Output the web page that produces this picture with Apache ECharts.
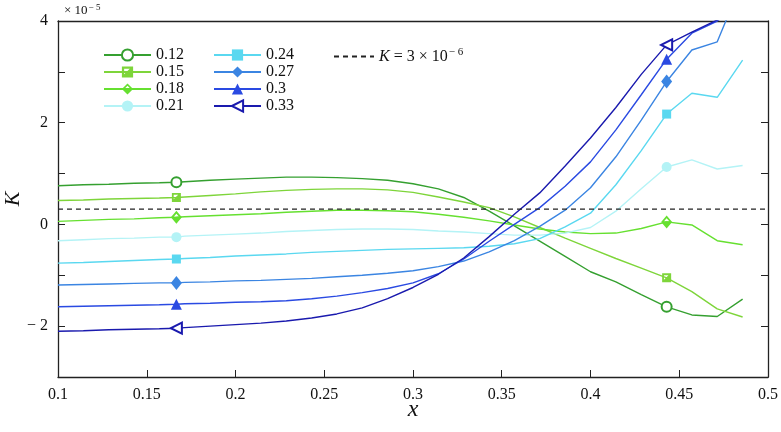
<!DOCTYPE html>
<html><head><meta charset="utf-8">
<script src="https://cdn.jsdelivr.net/npm/echarts@6/dist/echarts.min.js"></script>
<style>html,body{margin:0;padding:0;background:#fff}#c{width:781px;height:432px}</style>
</head><body><div id="c"></div>
<script>
// x positions (0.1 + k/70, plus the marker position 1/6)
const xValues = [0.1000,0.1143,0.1286,0.1429,0.1571,0.1667,0.1714,0.1857,0.2000,0.2143,0.2286,0.2429,0.2571,0.2714,0.2857,0.3000,0.3143,0.3286,0.3429,0.3571,0.3714,0.3857,0.4000,0.4143,0.4286,0.4429,0.4571,0.4714,0.4857];
const markerX = [0.1667, 0.4429];
const seriesNames = ['0.12','0.15','0.18','0.21','0.24','0.27','0.3','0.33'];
// values in units of 1e-5
const s012 = [0.76,0.78,0.79,0.81,0.82,0.83,0.84,0.87,0.89,0.91,0.93,0.93,0.92,0.90,0.87,0.80,0.70,0.53,0.26,-0.03,-0.33,-0.63,-0.93,-1.13,-1.38,-1.62,-1.78,-1.81,-1.47];
const s015 = [0.47,0.48,0.50,0.51,0.52,0.53,0.54,0.57,0.60,0.64,0.67,0.69,0.70,0.70,0.68,0.63,0.54,0.44,0.33,0.15,-0.06,-0.27,-0.47,-0.67,-0.86,-1.05,-1.32,-1.66,-1.82];
const s018 = [0.06,0.08,0.10,0.11,0.13,0.14,0.15,0.17,0.19,0.21,0.24,0.26,0.28,0.28,0.27,0.25,0.20,0.14,0.07,-0.01,-0.09,-0.15,-0.18,-0.17,-0.08,0.05,-0.01,-0.32,-0.40];
const s021 = [-0.32,-0.30,-0.28,-0.27,-0.25,-0.25,-0.23,-0.21,-0.19,-0.17,-0.14,-0.12,-0.10,-0.09,-0.09,-0.10,-0.13,-0.15,-0.18,-0.21,-0.21,-0.17,-0.06,0.26,0.70,1.13,1.27,1.09,1.16];
const s024 = [-0.76,-0.75,-0.73,-0.71,-0.69,-0.68,-0.67,-0.65,-0.62,-0.60,-0.58,-0.55,-0.53,-0.51,-0.49,-0.48,-0.47,-0.46,-0.43,-0.38,-0.28,-0.05,0.22,0.78,1.45,2.17,2.58,2.50,3.23];
const s027 = [-1.19,-1.18,-1.17,-1.16,-1.15,-1.15,-1.14,-1.13,-1.11,-1.10,-1.08,-1.06,-1.03,-1.00,-0.96,-0.91,-0.83,-0.72,-0.54,-0.32,-0.04,0.28,0.72,1.33,2.05,2.81,3.43,3.59,4.8];
const s030 = [-1.62,-1.61,-1.60,-1.59,-1.58,-1.57,-1.56,-1.55,-1.53,-1.52,-1.50,-1.46,-1.41,-1.34,-1.26,-1.15,-0.97,-0.68,-0.33,0.00,0.33,0.75,1.23,1.86,2.55,3.25,3.76,4.0,4.4];
const s033 = [-2.10,-2.09,-2.07,-2.06,-2.05,-2.04,-2.03,-2.00,-1.97,-1.94,-1.90,-1.84,-1.76,-1.64,-1.46,-1.24,-0.98,-0.66,-0.24,0.20,0.62,1.15,1.70,2.30,2.95,3.53,3.78,4.02,4.3];
const refX = [0.1, 0.5];
const refY = [0.3, 0.3];
const yLabelValues = [4, 2, 0, -2];
const yLabelTexts = ['4', '2', '0', '\u2212 2'];

const allValues = [s012,s015,s018,s021,s024,s027,s030,s033];
const colors = ['#35a030','#7ed53a','#66e030','#b4f3f6','#5ad8f0','#3b85e2','#2a4ae2','#1a1aae'];
const halfSquare = 'path://M0,0L10,0L10,10L0,10Z M2,2L2,7L7,2Z';
const halfDiamond = 'path://M5,0L10,5L5,10L0,5Z M5,2.2L2.6,4.6L7.4,4.6Z';
const symbols = ['emptyCircle', halfSquare, halfDiamond, 'circle', 'rect', 'diamond', 'triangle', 'emptyTriangle'];
const symSizes = [10, 9, [11,13], 10, 9, [11,14], 11, 11];
const symRot = [0,0,0,0,0,0,0,90];
const markerIdx = markerX.map(m => xValues.indexOf(m));
const serif = '"Liberation Serif","Times New Roman",serif';

const series = seriesNames.map((n, i) => ({
  name: n, type: 'line', xAxisIndex: 0, yAxisIndex: 0,
  data: xValues.map((x, j) => [x, allValues[i][j]]),
  symbol: symbols[i], symbolRotate: symRot[i],
  symbolSize: (v, p) => markerIdx.indexOf(p.dataIndex) >= 0 ? symSizes[i] : 0,
  showAllSymbol: true,
  lineStyle: { color: colors[i], width: 1.4 },
  itemStyle: { color: colors[i], borderWidth: 1.6 },
  emphasis: { disabled: true },
  clip: true, animation: false
}));
series.push({
  name: 'K', type: 'line', data: refX.map((x, j) => [x, refY[j]]),
  symbol: 'none', lineStyle: { color: '#222', width: 1.2, type: [5, 4] },
  itemStyle: { color: '#222' }, emphasis: { disabled: true }, animation: false
});

const legendBase = {
  orient: 'vertical', top: 47, itemWidth: 47, itemHeight: 14, itemGap: 1, padding: 0,
  iconRotate: 'inherit',
  textStyle: { fontFamily: serif, fontSize: 16, color: '#111' }
};

const chart = echarts.init(document.getElementById('c'));
chart.setOption({
  animation: false,
  backgroundColor: '#fff',
  grid: { left: 58, right: 13, top: 21, bottom: 55, containLabel: false, outerBoundsMode: 'none' },
  legend: [
    Object.assign({}, legendBase, { left: 103, data: seriesNames.slice(0, 4) }),
    Object.assign({}, legendBase, { left: 213, data: seriesNames.slice(4, 8) }),
    Object.assign({}, legendBase, { left: 333, itemWidth: 40,
      data: [{ name: 'K', itemStyle: { opacity: 0 } }],
      formatter: () => '{i|K} = 3 \u00d7 10{s|\u2212 6}',
      textStyle: { fontFamily: serif, fontSize: 16, color: '#111',
        rich: { i: { fontFamily: serif, fontStyle: 'italic', fontSize: 16 },
                s: { fontFamily: serif, fontSize: 11, verticalAlign: 'top', padding: [0,0,8,1] } } } })
  ],
  xAxis: [{
    type: 'value', min: 0.1, max: 0.5, interval: 0.05, position: 'bottom',
    name: 'x', nameLocation: 'middle', nameGap: 21, nameMoveOverlap: false,
    nameTextStyle: { fontFamily: serif, fontStyle: 'italic', fontSize: 24, color: '#111', verticalAlign: 'top' },
    axisLine: { show: true, onZero: false, lineStyle: { color: '#222', width: 1.3 } },
    axisTick: { show: true, inside: true, length: 7, lineStyle: { color: '#222' } },
    axisLabel: { fontFamily: serif, fontSize: 16, color: '#111', margin: 10 },
    splitLine: { show: false }
  }, {
    type: 'value', min: 0.1, max: 0.5, interval: 0.05, position: 'top',
    axisLine: { show: true, onZero: false, lineStyle: { color: '#222', width: 1.3 } },
    axisTick: { show: false }, axisLabel: { show: false }, splitLine: { show: false }
  }],
  yAxis: [{
    type: 'value', min: -3, max: 4, interval: 1, position: 'left',
    name: 'K', nameLocation: 'middle', nameGap: 34, nameRotate: 90, nameMoveOverlap: false,
    nameTextStyle: { fontFamily: serif, fontStyle: 'italic', fontSize: 22, color: '#111' },
    axisLine: { show: true, onZero: false, lineStyle: { color: '#222', width: 1.3 } },
    axisTick: { show: true, inside: true, length: 7, lineStyle: { color: '#222' } },
    axisLabel: { fontFamily: serif, fontSize: 16, color: '#111', margin: 10,
      formatter: v => { const k = yLabelValues.indexOf(v); return k >= 0 ? yLabelTexts[k] : ''; } },
    splitLine: { show: false }
  }, {
    type: 'value', min: -3, max: 4, interval: 1, position: 'right',
    axisLine: { show: true, onZero: false, lineStyle: { color: '#222', width: 1.3 } },
    axisTick: { show: true, inside: true, length: 7, lineStyle: { color: '#222' } },
    axisLabel: { show: false }, splitLine: { show: false }
  }],
  graphic: [{
    type: 'text', left: 64, top: 3,
    style: { text: '\u00d7 10{s|\u2212 5}', fontFamily: serif, fontSize: 13, fill: '#111',
      rich: { s: { fontFamily: serif, fontSize: 9, verticalAlign: 'top', padding: [0,0,7,1] } } }
  }],
  series: series
});
</script></body></html>
